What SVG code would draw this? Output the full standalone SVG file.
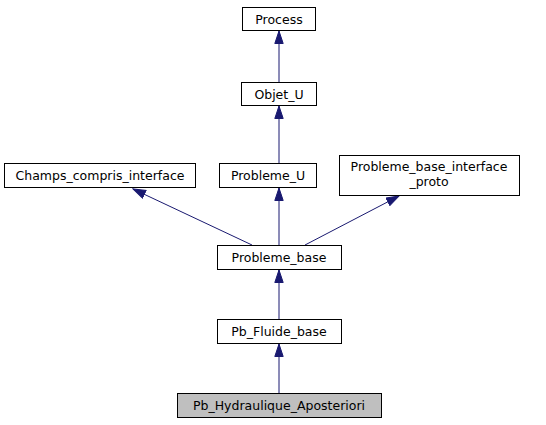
<svg xmlns="http://www.w3.org/2000/svg" width="546" height="425" viewBox="0 0 546 425">
<style>
.n rect{fill:#fff;stroke:#000;stroke-width:1}
.n text{font-family:"DejaVu Sans",sans-serif;font-size:12.5px;text-anchor:middle;fill:#000}
.e{stroke:#191970;stroke-width:1;fill:none}
</style>
<defs>
<marker id="a" markerWidth="14" markerHeight="10" refX="13" refY="4.7" orient="auto" markerUnits="userSpaceOnUse">
<path d="M0.5,0.5 L13,4.7 L0.5,8.9 Z" fill="#191970" stroke="#191970"/>
</marker>
</defs>
<rect width="546" height="425" fill="#fff"/>
<g id="edges">
<line class="e" x1="279" y1="82" x2="279" y2="31" marker-end="url(#a)"/>
<line class="e" x1="279" y1="163" x2="279" y2="106" marker-end="url(#a)"/>
<line class="e" x1="252" y1="245" x2="133" y2="189" marker-end="url(#a)"/>
<line class="e" x1="279" y1="245" x2="279" y2="188" marker-end="url(#a)"/>
<line class="e" x1="305" y1="245" x2="399" y2="196" marker-end="url(#a)"/>
<line class="e" x1="279" y1="319" x2="279" y2="270" marker-end="url(#a)"/>
<line class="e" x1="279" y1="393" x2="279" y2="344" marker-end="url(#a)"/>
</g>
<g id="Process" class="n"><rect x="242.5" y="7.5" width="73" height="23"/><text x="279" y="23.5">Process</text></g>
<g id="Objet_U" class="n"><rect x="241.5" y="82.5" width="75" height="23"/><text x="279" y="98.5">Objet_U</text></g>
<g id="Champs_compris_interface" class="n"><rect x="4.5" y="163.5" width="191" height="24"/><text x="100" y="180">Champs_compris_interface</text></g>
<g id="Probleme_U" class="n"><rect x="219.5" y="163.5" width="97" height="24"/><text x="268" y="180">Probleme_U</text></g>
<g id="Probleme_base_interface_proto" class="n"><rect x="339.5" y="155.5" width="180" height="40"/><text x="429" y="171">Probleme_base_interface</text><text x="429" y="186">_proto</text></g>
<g id="Probleme_base" class="n"><rect x="217.5" y="245.5" width="124" height="24"/><text x="279" y="262">Probleme_base</text></g>
<g id="Pb_Fluide_base" class="n"><rect x="217.5" y="319.5" width="124" height="24"/><text x="279" y="336">Pb_Fluide_base</text></g>
<g id="Pb_Hydraulique_Aposteriori" class="n"><rect x="177.5" y="393.5" width="204" height="24" style="fill:#bfbfbf"/><text x="279" y="410">Pb_Hydraulique_Aposteriori</text></g>
</svg>
